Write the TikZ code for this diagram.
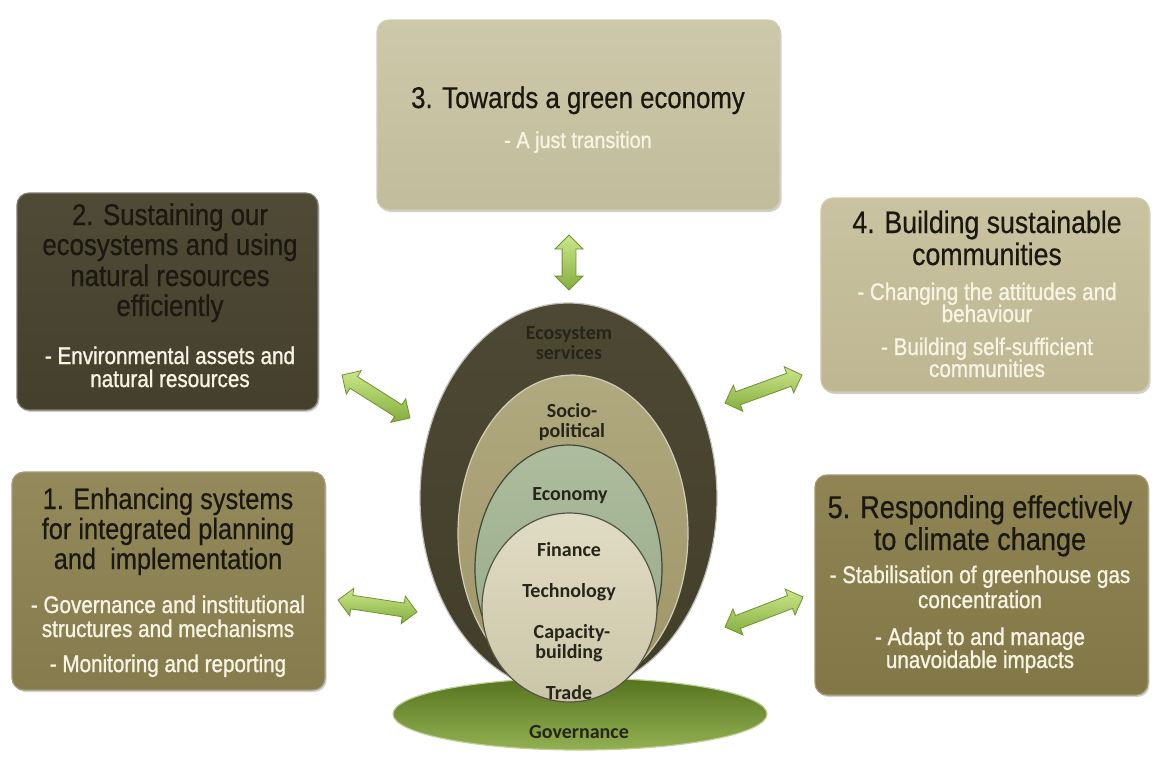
\documentclass[tikz,border=0pt]{standalone}
\usepackage{fontspec}
\setmainfont{Liberation Sans}[FakeStretch=0.86]
\newfontfamily\ttlfont{Liberation Sans}[FakeStretch=0.86, FakeBold=0.5]
\newfontfamily\subfont{Liberation Sans}[FakeStretch=0.86, FakeBold=1.1]
\newfontfamily\labfont{Carlito}
\usetikzlibrary{shapes.geometric,shapes.arrows,calc,shadows}
\definecolor{ttlc}{HTML}{1A1810}
\definecolor{subc}{HTML}{F7F4E4}
\definecolor{labc}{HTML}{26251A}
\definecolor{bxone}{HTML}{8E8352}
\definecolor{bxtwo}{HTML}{4A4530}
\definecolor{bxthree}{HTML}{C7C2A0}
\definecolor{bxfour}{HTML}{C4BC96}
\definecolor{bxfive}{HTML}{8A7E4B}
\definecolor{ovouter}{HTML}{47432D}
\definecolor{ovsocio}{HTML}{A69D6D}
\definecolor{ovecon}{HTML}{9EB18D}
\definecolor{ovinner}{HTML}{D6D0B0}
\definecolor{govdark}{HTML}{56731F}
\definecolor{govlight}{HTML}{93B152}
\definecolor{arlight}{HTML}{CBE68A}
\definecolor{ardark}{HTML}{84AE3E}
\definecolor{aredge}{HTML}{6E9232}
\newcommand\garr[3]{%
  \path let \p1=($(#3)-(#2)$), \n1={atan2(\y1,\x1)}, \n2={veclen(\x1,\y1)} in
    node[garrow, rotate=\n1, minimum height=\n2] (#1) at ($(#2)!0.5!(#3)$) {};}
\begin{document}
\begin{tikzpicture}[x=1pt,y=-1pt,
  pbox/.style={rectangle, rounded corners=12pt, inner sep=0pt, line width=1.2pt,
    drop shadow={shadow xshift=1.5pt, shadow yshift=-2pt, opacity=0.3, fill=black!60}},
  ttl/.style={anchor=base, text=ttlc, inner sep=0pt, font=\ttlfont\fontsize{30}{30}\selectfont},
  sub/.style={anchor=base, text=subc, inner sep=0pt, font=\subfont\fontsize{24}{24}\selectfont},
  lab/.style={anchor=base, text=labc, inner sep=0pt, font=\labfont\bfseries\fontsize{20}{20}\selectfont},
  oval/.style={ellipse, inner sep=0pt, line width=1.2pt},
  garrow/.style={double arrow, draw=aredge, line width=0.8pt, top color=arlight, bottom color=ardark,
    inner xsep=0pt, inner ysep=6.5pt, double arrow head extend=7pt, double arrow head indent=0pt}
]
\useasboundingbox (0,0) rectangle (1157,756);
\fill[white] (0,0) rectangle (1157,756);

% ---------- boxes ----------
\node[pbox, minimum width=403pt, minimum height=190pt, draw=bxthree!80!white, top color=bxthree!90!white, bottom color=bxthree!97!black] (b3) at (578.5,115) {};
\node[pbox, minimum width=301pt, minimum height=217pt, draw=bxtwo!70!white, top color=bxtwo!97!white, bottom color=bxtwo!92!black] (b2) at (167.5,301.5) {};
\node[pbox, minimum width=328pt, minimum height=194pt, draw=bxfour!80!white, top color=bxfour!90!white, bottom color=bxfour!97!black] (b4) at (985,295) {};
\node[pbox, minimum width=313pt, minimum height=218pt, draw=bxone!80!white, top color=bxone!95!white, bottom color=bxone!94!black] (b1) at (168.5,581) {};
\node[pbox, minimum width=333pt, minimum height=220pt, draw=bxfive!80!white, top color=bxfive!95!white, bottom color=bxfive!94!black] (b5) at (981.5,585) {};

% box 3
\node[ttl] (t3a) at (578,108) {3. Towards a green economy};
\node[sub, font=\subfont\fontsize{23}{23}\selectfont] (s3a) at (578,148) {- A just transition};
% box 2
\node[ttl] (t2a) at (170,225) {2. Sustaining our};
\node[ttl] (t2b) at (170,255) {ecosystems and using};
\node[ttl] (t2c) at (170,286) {natural resources};
\node[ttl] (t2d) at (170,316) {efficiently};
\node[sub] (s2a) at (170,364) {- Environmental assets and};
\node[sub] (s2b) at (170,387) {natural resources};
% box 4
\node[ttl, font=\ttlfont\fontsize{31}{31}\selectfont] (t4a) at (987,233) {4. Building sustainable};
\node[ttl, font=\ttlfont\fontsize{31}{31}\selectfont] (t4b) at (987,265) {communities};
\node[sub] (s4a) at (987,300) {- Changing the attitudes and};
\node[sub] (s4b) at (987,322) {behaviour};
\node[sub] (s4c) at (987,355) {- Building self-sufficient};
\node[sub] (s4d) at (987,377) {communities};
% box 1
\node[ttl, font=\ttlfont\fontsize{29.5}{29.5}\selectfont] (t1a) at (168,509) {1. Enhancing systems};
\node[ttl, font=\ttlfont\fontsize{29.5}{29.5}\selectfont] (t1b) at (168,539) {for integrated planning};
\node[ttl, font=\ttlfont\fontsize{29.5}{29.5}\selectfont] (t1c) at (168,569) {and~ implementation};
\node[sub] (s1a) at (168,613) {- Governance and institutional};
\node[sub] (s1b) at (168,637) {structures and mechanisms};
\node[sub] (s1c) at (168,672) {- Monitoring and reporting};
% box 5
\node[ttl, font=\ttlfont\fontsize{31.5}{31.5}\selectfont] (t5a) at (980,518) {5. Responding effectively};
\node[ttl, font=\ttlfont\fontsize{31.5}{31.5}\selectfont] (t5b) at (980,550) {to climate change};
\node[sub] (s5a) at (980,583) {- Stabilisation of greenhouse gas};
\node[sub] (s5b) at (980,608) {concentration};
\node[sub] (s5c) at (980,645) {- Adapt to and manage};
\node[sub] (s5d) at (980,668) {unavoidable impacts};

% ---------- central ellipses ----------
\node[oval, minimum width=374pt, minimum height=72pt, draw=govlight!60!white, top color=govdark, bottom color=govlight] (gov) at (580,714) {};
\node[oval, minimum width=297pt, minimum height=390pt, draw=ovouter!35!white, top color=ovouter!97!white, bottom color=ovouter!92!black] (eco) at (568.5,498) {};
\node[oval, minimum width=230pt, minimum height=317pt, draw=ovsocio!50!white, top color=ovsocio!88!white, bottom color=ovsocio!95!black] (soc) at (573,533.5) {};
\node[oval, minimum width=187pt, minimum height=247pt, draw=ovecon!40!black, top color=ovecon!85!white, bottom color=ovecon!95!black] (econ) at (568.5,568.5) {};
\node[oval, minimum width=175pt, minimum height=189pt, draw=ovinner!40!black, top color=ovinner!75!white, bottom color=ovinner!95!black] (inn) at (569.5,607.5) {};

\node[lab] (l1) at (569,339) {Ecosystem};
\node[lab] (l2) at (569,359) {services};
\node[lab] (l3) at (572,417) {Socio-};
\node[lab] (l4) at (572,437) {political};
\node[lab] (l5) at (570,500) {Economy};
\node[lab] (l6) at (569,556) {Finance};
\node[lab] (l7) at (569,597) {Technology};
\node[lab] (l8) at (572,638) {Capacity-};
\node[lab] (l9) at (569,658) {building};
\node[lab] (l10) at (569,699) {Trade};
\node[lab] (l11) at (579,738) {Governance};

% ---------- arrows ----------
\coordinate (a3s) at (569,235); \coordinate (a3e) at (569,290);
\coordinate (a2s) at (342,375); \coordinate (a2e) at (410,418);
\coordinate (a4s) at (725,403); \coordinate (a4e) at (802,375);
\coordinate (a1s) at (338,600); \coordinate (a1e) at (417,612);
\coordinate (a5s) at (725,627); \coordinate (a5e) at (803,597);
\garr{ar3}{a3s}{a3e}
\garr{ar2}{a2s}{a2e}
\garr{ar4}{a4s}{a4e}
\garr{ar1}{a1s}{a1e}
\garr{ar5}{a5s}{a5e}
\end{tikzpicture}
\end{document}
